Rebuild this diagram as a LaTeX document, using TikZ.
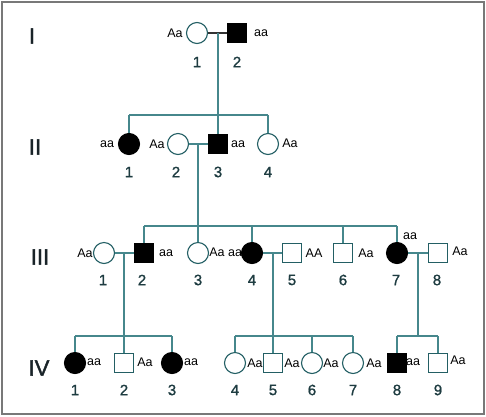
\documentclass[tikz,border=0pt]{standalone}
\usepackage{fontspec}
\setmainfont{Liberation Sans}
\newfontfamily\boldishfont[FakeBold=1.2]{Liberation Sans}
\newfontfamily\romanfont[FakeBold=1.8]{Liberation Sans}
\definecolor{lnc}{RGB}{70,135,140}
\definecolor{shc}{RGB}{35,95,100}
\definecolor{numc}{RGB}{30,60,65}
\definecolor{romc}{RGB}{25,35,40}
\definecolor{frc}{RGB}{120,120,120}
\tikzset{
  fem/.style={circle,draw=shc,line width=1.1pt,minimum size=21pt,inner sep=0pt,fill=white},
  male/.style={rectangle,draw=shc,line width=1.1pt,minimum size=19pt,inner sep=0pt,fill=white},
  aff/.style={fill=black,draw=black},
  geno/.style={font=\fontsize{12.5}{12.5}\selectfont,inner sep=0pt,text=black},
  num/.style={font=\boldishfont\fontsize{15}{15}\selectfont,inner sep=0pt,text=numc},
  rom/.style={font=\romanfont\fontsize{22}{22}\selectfont,inner sep=0pt,text=romc},
  ln/.style={draw=lnc,line width=1.1pt},
  mar/.style={draw=black!80,line width=1.1pt}
}
\begin{document}
\begin{tikzpicture}[x=1pt,y=-1pt]
\useasboundingbox (0,0) rectangle (486,416);
\draw[frc,line width=2pt] (2,1.5) rectangle (484,414);
% Roman numerals
\node[rom] (rI) at (32,36) {I};
\node[rom] (rII) at (35,147) {II};
\node[rom] (rIII) at (40,257) {III};
\node[rom] (rIV) at (39,368) {IV};
% Generation I
\node[fem] (I1) at (197,33) {};
\node[male,aff] (I2) at (237,33) {};
% Generation II
\node[fem,aff] (II1) at (129,144) {};
\node[fem] (II2) at (178,144) {};
\node[male,aff] (II3) at (218,144) {};
\node[fem] (II4) at (268,144) {};
% Generation III
\node[fem] (III1) at (104,253) {};
\node[male,aff] (III2) at (144,253) {};
\node[fem] (III3) at (198,253) {};
\node[fem,aff] (III4) at (252,253) {};
\node[male] (III5) at (292,253) {};
\node[male] (III6) at (343,253) {};
\node[fem,aff] (III7) at (397,253) {};
\node[male] (III8) at (438,253) {};
% Generation IV
\node[fem,aff] (IV1) at (75,363) {};
\node[male] (IV2) at (124,363) {};
\node[fem,aff] (IV3) at (172,363) {};
\node[fem] (IV4) at (235,363) {};
\node[male] (IV5) at (273,363) {};
\node[fem] (IV6) at (312,363) {};
\node[fem] (IV7) at (353,363) {};
\node[male,aff] (IV8) at (397,363) {};
\node[male] (IV9) at (438,363) {};
% coordinates
\coordinate (mI) at (218,33);
\coordinate (sII) at (218,115);
\coordinate (sIIl) at (129,115);
\coordinate (sIIr) at (268,115);
\coordinate (mII) at (198,144);
\coordinate (sIII) at (198,226);
\coordinate (sIIIl) at (144,226);
\coordinate (sIIIr) at (397,226);
\coordinate (sIII4) at (252,226);
\coordinate (sIII6) at (343,226);
\coordinate (mA) at (124,253);
\coordinate (sA) at (124,336);
\coordinate (sAl) at (75,336);
\coordinate (sAr) at (172,336);
\coordinate (mB) at (273,253);
\coordinate (sB) at (273,336);
\coordinate (sBl) at (235,336);
\coordinate (sBr) at (353,336);
\coordinate (sB6) at (312,336);
\coordinate (mC) at (418,253);
\coordinate (sC) at (418,336);
\coordinate (sCl) at (397,336);
\coordinate (sCr) at (438,336);
% marriage lines
\draw[mar] (I1) -- (I2);
\draw[ln] (II2) -- (II3);
\draw[ln] (III1) -- (III2);
\draw[ln] (III4) -- (III5);
\draw[ln] (III7) -- (III8);
% descent I
\draw[ln] (mI) -- (sII);
\draw[ln] (sIIl) -- (sIIr);
\draw[ln] (sIIl) -- (II1);
\draw[ln] (sII) -- (II3);
\draw[ln] (sIIr) -- (II4);
% descent II
\draw[ln] (mII) -- (sIII);
\draw[ln] (sIIIl) -- (sIIIr);
\draw[ln] (sIIIl) -- (III2);
\draw[ln] (sIII) -- (III3);
\draw[ln] (sIII4) -- (III4);
\draw[ln] (sIII6) -- (III6);
\draw[ln] (sIIIr) -- (III7);
% descent III
\draw[ln] (mA) -- (sA);
\draw[ln] (sAl) -- (sAr);
\draw[ln] (sAl) -- (IV1);
\draw[ln] (sA) -- (IV2);
\draw[ln] (sAr) -- (IV3);
\draw[ln] (mB) -- (sB);
\draw[ln] (sBl) -- (sBr);
\draw[ln] (sBl) -- (IV4);
\draw[ln] (sB) -- (IV5);
\draw[ln] (sB6) -- (IV6);
\draw[ln] (sBr) -- (IV7);
\draw[ln] (mC) -- (sC);
\draw[ln] (sCl) -- (sCr);
\draw[ln] (sCl) -- (IV8);
\draw[ln] (sCr) -- (IV9);
% genotypes
\node[geno] (gI1) at (175,33) {Aa};
\node[geno] (gI2) at (261,33) {aa};
\node[geno] (gII1) at (107,144) {aa};
\node[geno] (gII2) at (157,144) {Aa};
\node[geno] (gII3) at (238,144) {aa};
\node[geno] (gII4) at (290,143) {Aa};
\node[geno] (gIII1) at (85,253) {Aa};
\node[geno] (gIII2) at (166,253) {aa};
\node[geno] (gIII3) at (217,252) {Aa};
\node[geno] (gIII4) at (235,253) {aa};
\node[geno] (gIII5) at (314,253) {AA};
\node[geno] (gIII6) at (366,253) {Aa};
\node[geno] (gIII7) at (410,236) {aa};
\node[geno] (gIII8) at (460,251) {Aa};
\node[geno] (gIV1) at (94,362) {aa};
\node[geno] (gIV2) at (145,362) {Aa};
\node[geno] (gIV3) at (191,362) {aa};
\node[geno] (gIV4) at (255,363) {Aa};
\node[geno] (gIV5) at (292,363) {Aa};
\node[geno] (gIV6) at (331,363) {Aa};
\node[geno] (gIV7) at (374,363) {Aa};
\node[geno] (gIV8) at (413,362) {aa};
\node[geno] (gIV9) at (458,360) {Aa};
% numbers
\node[num] (nI1) at (197,62) {1};
\node[num] (nI2) at (237,62) {2};
\node[num] (nII1) at (129,172) {1};
\node[num] (nII2) at (176,172) {2};
\node[num] (nII3) at (218,172) {3};
\node[num] (nII4) at (268,172) {4};
\node[num] (nIII1) at (103,280) {1};
\node[num] (nIII2) at (142,280) {2};
\node[num] (nIII3) at (198,280) {3};
\node[num] (nIII4) at (252,280) {4};
\node[num] (nIII5) at (292,280) {5};
\node[num] (nIII6) at (343,280) {6};
\node[num] (nIII7) at (396,280) {7};
\node[num] (nIII8) at (437,280) {8};
\node[num] (nIV1) at (75,390) {1};
\node[num] (nIV2) at (124,390) {2};
\node[num] (nIV3) at (172,390) {3};
\node[num] (nIV4) at (235,390) {4};
\node[num] (nIV5) at (273,390) {5};
\node[num] (nIV6) at (312,390) {6};
\node[num] (nIV7) at (353,390) {7};
\node[num] (nIV8) at (397,390) {8};
\node[num] (nIV9) at (438,390) {9};
\end{tikzpicture}
\end{document}
